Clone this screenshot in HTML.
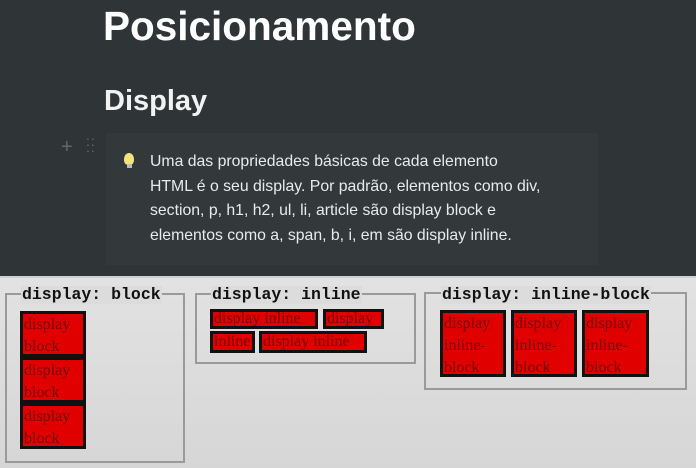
<!DOCTYPE html>
<html><head><meta charset="utf-8"><style>
*{margin:0;padding:0;box-sizing:border-box}
body{width:696px;height:468px;overflow:hidden;background:#2f3437;position:relative;font-family:"Liberation Sans",sans-serif}
.a{position:absolute;white-space:nowrap}
.h1{left:103px;top:3px;font-size:40.5px;font-weight:bold;color:#fff}
.h2{left:104px;top:85px;font-size:29px;font-weight:bold;color:#f2f2f2}
.call{left:106px;top:133px;width:492px;height:132px;background:#33383b}
.txt{left:150px;top:150px;font-size:15.8px;line-height:24.5px;color:#eaeaea}
.low{left:0;top:276px;width:696px;height:192px;background:linear-gradient(#e2e2e2,#d6d6d6);border-top:2px solid #cfcfcf}
.fs{position:absolute;border:2px solid #9a9a9a}
.lg{position:absolute;font-family:"Liberation Mono",monospace;font-weight:bold;font-size:16.5px;color:#111;background:#dcdcdc;padding:0 1px;line-height:18px}
.bx{position:absolute;background:#e00000;border:3px solid #111;font-family:"Liberation Serif",serif;font-size:16px;line-height:22px;color:#700;overflow:hidden;padding-left:1px}
</style></head><body>
<div class="a h1">Posicionamento</div>
<div class="a h2">Display</div>
<div class="a" style="left:61px;top:136px;color:#666;font-size:20px">+</div>
<div class="a" style="left:86px;top:138px;color:#666;font-size:14px;line-height:6px;letter-spacing:1px">::<br>::</div>
<div class="a call"></div>
<div class="a" style="left:124px;top:153px;width:10px;height:12px;background:#f4e27a;border-radius:50% 50% 40% 40%"></div>
<div class="a" style="left:127px;top:164px;width:5px;height:4px;background:#bbb"></div>
<div class="a txt">Uma das propriedades básicas de cada elemento<br>HTML é o seu display. Por padrão, elementos como div,<br>section, p, h1, h2, ul, li, article são display block e<br>elementos como a, span, b, i, em são display inline.</div>
<div class="a low"></div>

<div class="fs" style="left:5px;top:293px;width:180px;height:170px"></div>
<div class="lg" style="left:21px;top:286px">display: block</div>
<div class="bx" style="left:20px;top:311px;width:66px;height:46px">display<br>block</div>
<div class="bx" style="left:20px;top:357px;width:66px;height:46px">display<br>block</div>
<div class="bx" style="left:20px;top:403px;width:66px;height:46px">display<br>block</div>

<div class="fs" style="left:195px;top:293px;width:221px;height:71px"></div>
<div class="lg" style="left:211px;top:286px">display: inline</div>
<div class="bx" style="left:210px;top:309px;width:108px;height:20px;line-height:14px">display inline</div>
<div class="bx" style="left:323px;top:309px;width:61px;height:20px;line-height:14px">display</div>
<div class="bx" style="left:210px;top:331px;width:45px;height:22px;line-height:16px">inline</div>
<div class="bx" style="left:259px;top:331px;width:108px;height:22px;line-height:16px">display inline</div>

<div class="fs" style="left:424px;top:292px;width:263px;height:98px"></div>
<div class="lg" style="left:441px;top:286px">display: inline-block</div>
<div class="bx" style="left:440px;top:310px;width:66px;height:67px">display<br>inline-<br>block</div>
<div class="bx" style="left:511px;top:310px;width:66px;height:67px">display<br>inline-<br>block</div>
<div class="bx" style="left:582px;top:310px;width:67px;height:67px">display<br>inline-<br>block</div>
</body></html>
